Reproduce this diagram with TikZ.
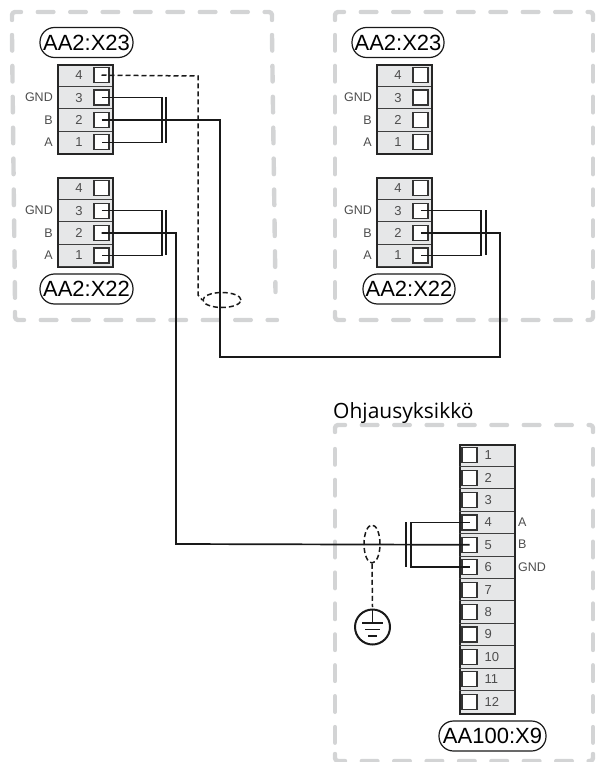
\documentclass[tikz,border=0pt]{standalone}
\usepackage{fontspec}
\setmainfont{Liberation Sans}
\newfontfamily\titlefont{Open Sans}
\usetikzlibrary{shapes.geometric}
\definecolor{boxgray}{HTML}{D3D4D5}
\definecolor{rowgray}{HTML}{E6E7E8}
\definecolor{numgray}{HTML}{4D4D4D}
\tikzset{
 frameline/.style={draw=boxgray,line width=4.4pt,line cap=round,line join=round,rounded corners=3pt,dash pattern=on 15.6pt off 16.8pt},
 frameside/.style={draw=boxgray,line width=4.4pt,line cap=round,dash pattern=on 15.6pt off 15.3pt},
 blockbox/.style={draw=black!85,fill=rowgray,line width=1.6pt,inner sep=0pt},
 rowline/.style={draw=black!75,line width=.9pt},
 termbox/.style={draw=black!80,fill=white,line width=1.2pt,minimum size=15pt,inner sep=0pt},
 wire/.style={draw=black!90,line width=1.7pt},
 shieldline/.style={draw=black!90,line width=1.5pt,dash pattern=on 5pt off 3pt},
 pill/.style={draw=black!90,line width=1.2pt,fill=white,rounded corners=14.5pt,minimum height=30pt,inner sep=0pt,font=\fontsize{22}{22}\selectfont},
 numtext/.style={text=numgray,inner sep=0pt,font=\fontsize{13}{13}\selectfont},
 sidetext/.style={text=numgray,inner sep=0pt,font=\fontsize{12.5}{13}\selectfont},
}
\newcommand{\conblock}[3]{% prefix, left x, top y
 \node[blockbox,anchor=north west,minimum width=55pt,minimum height=89.5pt] (#1) at (#2,#3) {};
 \foreach \r/\n/\s in {1/4/,2/3/GND,3/2/B,4/1/A}{
  \draw[rowline] (#2,#3+22.4*\r) -- (#2+55,#3+22.4*\r);
  \node[termbox] (#1\n) at (#2+44.5,#3+22.4*\r-11.2) {};
  \node[numtext] (#1n\n) at (#2+22,#3+22.4*\r-11.2) {\n};
  \node[sidetext,anchor=east] (#1s\n) at (#2-4,#3+22.4*\r-11.2) {\s};
 }
 \node[blockbox,fill=none,anchor=north west,minimum width=55pt,minimum height=89.5pt] at (#2,#3) {};
}
\begin{document}
\begin{tikzpicture}[x=1pt,y=-1pt]
\useasboundingbox (0,0) rectangle (595,762);
% frames
\path[frameline] (12,20) -- (12,12) -- (272,12) -- (272,20);
\path[frameside] (272,35) -- (275.5,292);
\path[frameside] (12,35) -- (15,300);
\path[frameline] (15,312) -- (15,320) -- (277,320);
\path[frameline] (335,20) -- (335,12) -- (593,12) -- (593,20);
\path[frameside] (593,35) -- (593,300);
\path[frameside] (335,35) -- (335,300);
\path[frameline] (335,312) -- (335,320) -- (593,320) -- (593,312);
\path[frameline] (335,432) -- (335,425) -- (593,425) -- (593,432);
\path[frameside] (593,449) -- (593,745);
\path[frameside] (335,449) -- (335,745);
\path[frameline] (335,754) -- (335,761) -- (593,761) -- (593,754);
% blocks
\conblock{a}{57}{64}
\conblock{b}{57}{177}
\conblock{c}{376}{64}
\conblock{d}{376}{177}
\node[blockbox,anchor=north west,minimum width=55pt,minimum height=269pt] (k) at (459,444) {};
\foreach \r in {1,...,12}{
 \ifnum\r<12 \draw[rowline] (459,444+22.4*\r) -- (514,444+22.4*\r);\fi
 \node[termbox] (k\r) at (469.5,444+22.4*\r-11.2) {};
 \node[numtext,anchor=west] (kn\r) at (484.5,444+22.4*\r-11.2) {\r};
}
\node[sidetext,anchor=west] (ka) at (518,522) {A};
\node[sidetext,anchor=west] (kb) at (518,544) {B};
\node[sidetext,anchor=west] (kg) at (518,567) {GND};
% pills
\node[pill,minimum width=93pt] (pa) at (86.5,42.5) {AA2:X23};
\node[pill,minimum width=93pt] (pb) at (86.5,289) {AA2:X22};
\node[pill,minimum width=92pt] (pc) at (398,42.5) {AA2:X23};
\node[pill,minimum width=92pt] (pd) at (409,289) {AA2:X22};
\node[pill,minimum width=107pt] (pk) at (492.5,736) {AA100:X9};
\node[anchor=base west,inner sep=0pt,font=\titlefont\fontsize{21}{21}\selectfont] (title) at (333,418) {Ohjausyksikkö};
% junction coordinates
\coordinate (ja) at (162,120); \coordinate (jb) at (162,233); \coordinate (jd) at (481,233);
\coordinate (jk) at (411,544);
\coordinate (ba1) at (166,97); \coordinate (ba2) at (166,143);
\coordinate (bb1) at (166,210); \coordinate (bb2) at (166,255);
\coordinate (bd1) at (486,210); \coordinate (bd2) at (486,255);
\coordinate (bk1) at (406,522); \coordinate (bk2) at (406,567);
\coordinate (ra) at (220,357); \coordinate (rd) at (500,357);
\coordinate (rb) at (176,544);
\coordinate (sa) at (198,76); \coordinate (sb) at (198,295);
% wires
\draw[wire] (a3.center) -| (ja) |- (a1.center);
\draw[wire] (ba1) -- (ba2);
\draw[wire] (b3.center) -| (jb) |- (b1.center);
\draw[wire] (bb1) -- (bb2);
\draw[wire] (d3.center) -| (jd) |- (d1.center);
\draw[wire] (bd1) -- (bd2);
\draw[wire] (k4.center) -| (jk) |- (k6.center);
\draw[wire] (bk1) -- (bk2);
\draw[wire] (a2.center) -| (ra) -- (rd) |- (d2.center);
\draw[wire] (b2.center) -| (rb) -- (k5.center);
% shields
\node[ellipse,shieldline,minimum width=38pt,minimum height=15pt,inner sep=0pt] (sh1) at (222,300) {};
\node[ellipse,shieldline,minimum width=16pt,minimum height=38pt,inner sep=0pt] (sh2) at (372,544) {};
\draw[shieldline] (a4.center) -- (sa) -- (sb) -- (sh1.west);
% ground
\node[circle,draw=black!90,line width=2pt,minimum size=35pt,inner sep=0pt] (gnd) at (372.5,627) {};
\draw[shieldline] (sh2.south) -- (372.5,607);
\coordinate (g0) at (372.5,623); \coordinate (g1) at (362,623); \coordinate (g2) at (383,623);
\coordinate (g3) at (365,629.5); \coordinate (g4) at (379.5,629.5); \coordinate (g5) at (368,636); \coordinate (g6) at (376.5,636);
\draw[wire] (gnd.north) -- (g0);
\draw[wire] (g1) -- (g2);
\draw[wire] (g3) -- (g4);
\draw[wire] (g5) -- (g6);
\end{tikzpicture}
\end{document}
